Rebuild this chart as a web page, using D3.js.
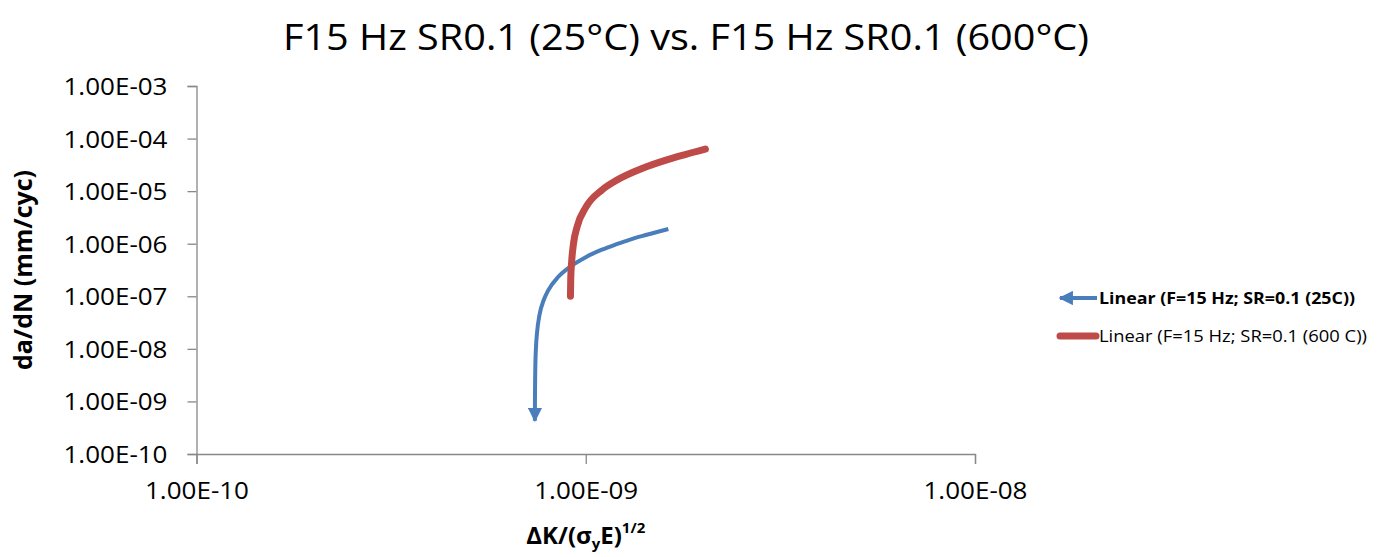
<!DOCTYPE html>
<html>
<head>
<meta charset="utf-8">
<script src="https://cdn.jsdelivr.net/npm/d3@7"></script>
<style>
  body { margin: 0; background: #fff; }
  text { font-family: "Open Sans", Lato, sans-serif; fill: #000; }
</style>
</head>
<body>
<div id="chart"></div>
<script>
// Values (linear trendlines drawn on log-log axes)
const blueX = [7.402e-10, 7.405e-10, 7.42e-10, 7.45e-10, 7.5e-10, 7.6e-10, 7.8e-10, 8.0e-10, 8.5e-10, 9.0e-10, 1.0e-9, 1.1e-9, 1.2e-9, 1.3e-9, 1.4e-9, 1.5e-9, 1.63e-9];
const blueY = [4.3e-10, 1.07e-9, 4.3e-9, 1.07e-8, 2.1e-8, 4.3e-8, 8.5e-8, 1.28e-7, 2.35e-7, 3.4e-7, 5.55e-7, 7.7e-7, 9.8e-7, 1.2e-6, 1.41e-6, 1.62e-6, 1.9e-6];
const redX = [9.135e-10, 9.15e-10, 9.2e-10, 9.3e-10, 9.5e-10, 1.0e-9, 1.1e-9, 1.2e-9, 1.4e-9, 1.6e-9, 1.8e-9, 2.03e-9];
const redY = [1.0e-7, 2.1e-7, 4.5e-7, 1.0e-6, 2.1e-6, 4.9e-6, 1.05e-5, 1.61e-5, 2.73e-5, 3.85e-5, 4.96e-5, 6.3e-5];
const xTicks = [1e-10, 1e-9, 1e-8];
const yTicks = [1e-10, 1e-9, 1e-8, 1e-7, 1e-6, 1e-5, 1e-4, 1e-3];
const seriesNames = ["Linear (F=15 Hz; SR=0.1 (25C))", "Linear (F=15 Hz; SR=0.1 (600 C))"];

const W = 1383, H = 557;
const margin = { top: 86, right: 408, bottom: 103, left: 196.5 };
const width = W - margin.left - margin.right,
    height = H - margin.top - margin.bottom;

const svg = d3.select("#chart").append("svg")
    .attr("width", W)
    .attr("height", H);

const g = svg.append("g")
    .attr("transform", `translate(${margin.left},${margin.top})`);

const x = d3.scaleLog().domain([1e-10, 1e-8]).range([0, width]);
const y = d3.scaleLog().domain([1e-10, 1e-3]).range([height, 0]);

const fmt = v => {
    const e = Math.round(Math.log10(v));
    return "1.00E" + (e < 0 ? "-" : "+") + String(Math.abs(e)).padStart(2, "0");
};

// Arrow marker for the blue line start
svg.append("defs").append("marker")
    .attr("id", "arrow")
    .attr("viewBox", "0 0 10 10")
    .attr("refX", 9).attr("refY", 5)
    .attr("markerWidth", 3.6).attr("markerHeight", 3.6)
    .attr("markerUnits", "strokeWidth")
    .attr("orient", "auto-start-reverse")
    .append("path")
    .attr("d", "M0,0 L10,5 L0,10 Z")
    .attr("fill", "#4A7EBB");

// Axes
const axisColor = "#888";
const xAxis = g.append("g")
    .attr("transform", `translate(0,${height})`)
    .call(d3.axisBottom(x).tickValues(xTicks).tickFormat(fmt).tickSize(10).tickPadding(18));
const yAxis = g.append("g")
    .call(d3.axisLeft(y).tickValues(yTicks).tickFormat(fmt).tickSize(9).tickPadding(20));

[xAxis, yAxis].forEach(a => {
    a.select(".domain").attr("stroke", axisColor).attr("stroke-width", 1.3);
    a.selectAll(".tick line").attr("stroke", axisColor).attr("stroke-width", 1.3);
    a.selectAll(".tick text")
        .style("font-family", "'Open Sans', Lato, sans-serif")
        .style("font-size", "23.5px")
        .attr("textLength", 104)
        .attr("lengthAdjust", "spacingAndGlyphs")
        .attr("fill", "#000");
});
yAxis.selectAll(".tick text").attr("dy", "0.36em");

// Lines
const line = d3.line()
    .x(d => x(d[0]))
    .y(d => y(d[1]))
    .curve(d3.curveMonotoneX);

const blueData = blueX.map((v, i) => [v, blueY[i]]);
const redData = redX.map((v, i) => [v, redY[i]]);

g.append("path")
    .datum(blueData)
    .attr("fill", "none")
    .attr("stroke", "#4A7EBB")
    .attr("stroke-width", 4)
    .attr("marker-start", "url(#arrow)")
    .attr("d", line);

g.append("path")
    .datum(redData)
    .attr("fill", "none")
    .attr("stroke", "#BE4B48")
    .attr("stroke-width", 7)
    .attr("stroke-linecap", "round")
    .attr("d", line);

// Title
svg.append("text")
    .attr("x", 686).attr("y", 50)
    .attr("text-anchor", "middle")
    .style("font-size", "37px")
    .attr("textLength", 806)
    .attr("lengthAdjust", "spacingAndGlyphs")
    .text("F15 Hz SR0.1 (25°C) vs. F15 Hz SR0.1 (600°C)");

// Y axis title
svg.append("text")
    .attr("transform", `translate(32,${margin.top + height / 2}) rotate(-90)`)
    .attr("text-anchor", "middle")
    .style("font-size", "25px")
    .style("font-weight", "bold")
    .text("da/dN (mm/cyc)");

// X axis title
const xt = svg.append("text")
    .attr("x", margin.left + x(1e-9)).attr("y", 544)
    .attr("text-anchor", "middle")
    .style("font-size", "24px")
    .style("font-weight", "bold");
xt.append("tspan").text("ΔK/(σ");
xt.append("tspan").attr("dy", 5).style("font-size", "15px").text("y");
xt.append("tspan").attr("dy", -5).text("E)");
xt.append("tspan").attr("dy", -11).style("font-size", "15px").text("1/2");

// Legend
const legend = svg.append("g").attr("transform", "translate(1057,0)");
legend.append("line")
    .attr("x1", 40).attr("x2", 3).attr("y1", 298).attr("y2", 298)
    .attr("stroke", "#4A7EBB").attr("stroke-width", 4)
    .attr("marker-end", "url(#arrow)");
legend.append("text")
    .attr("x", 42).attr("y", 304)
    .style("font-size", "15.5px").style("font-weight", "bold")
    .attr("textLength", 256)
    .attr("lengthAdjust", "spacingAndGlyphs")
    .text(seriesNames[0]);
legend.append("line")
    .attr("x1", 3).attr("x2", 39).attr("y1", 336).attr("y2", 336)
    .attr("stroke", "#BE4B48").attr("stroke-width", 7)
    .attr("stroke-linecap", "round");
legend.append("text")
    .attr("x", 42).attr("y", 342)
    .style("font-size", "15.5px")
    .attr("textLength", 268)
    .attr("lengthAdjust", "spacingAndGlyphs")
    .text(seriesNames[1]);
</script>
</body>
</html>
